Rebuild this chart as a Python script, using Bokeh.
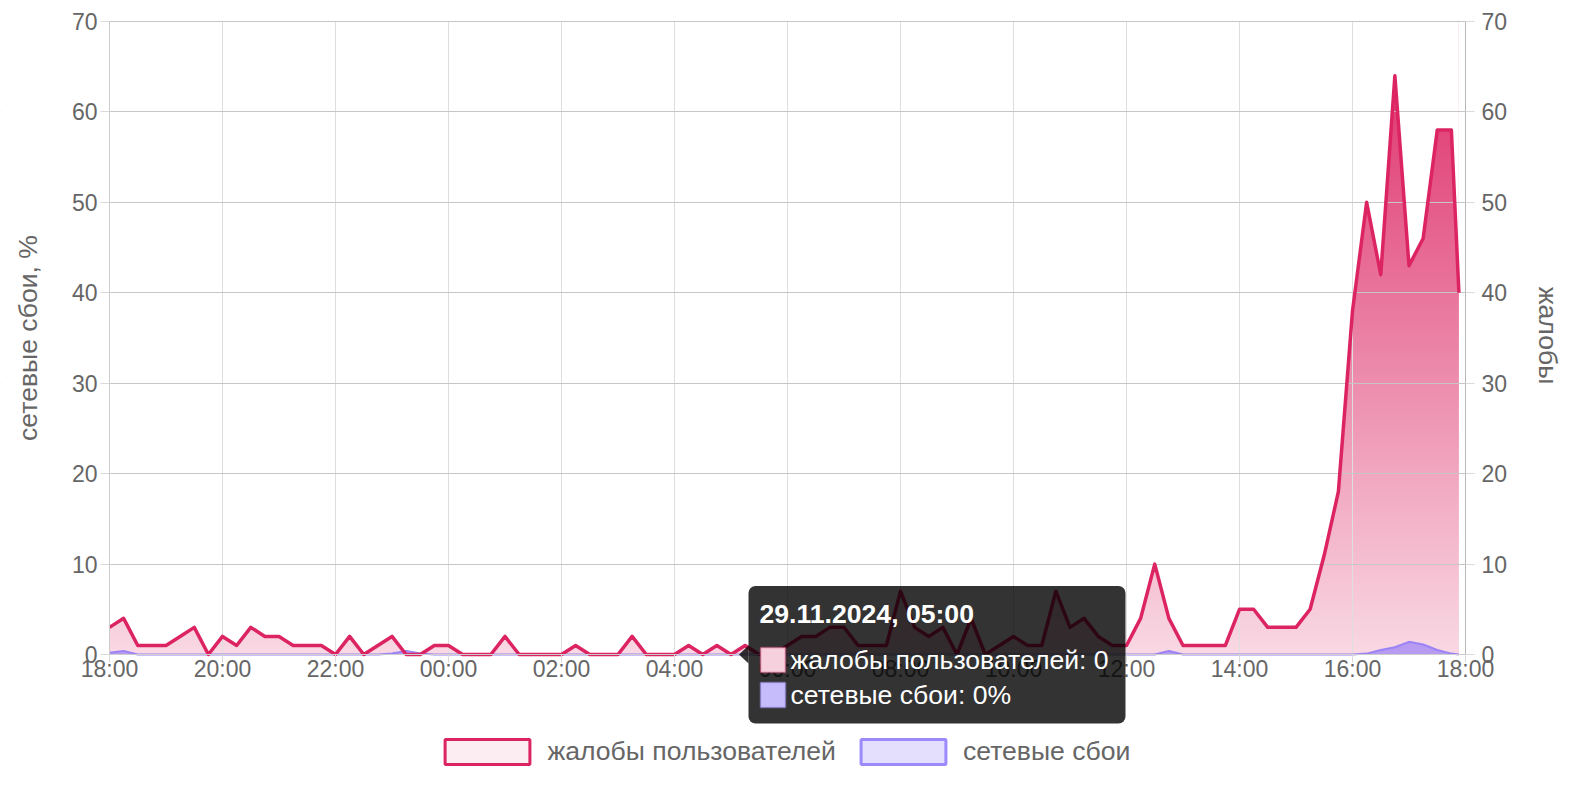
import math
import numpy as np
import pandas as pd
from bokeh.plotting import figure
from bokeh.models import (Range1d, LinearAxis, FixedTicker, DatetimeTickFormatter, Legend,
                          LegendItem, BoxAnnotation, Label, PolyAnnotation)
from bokeh.embed import file_html
from bokeh.resources import INLINE

# ---------------- data ----------------
start = pd.Timestamp("2024-11-28 18:00")
end = pd.Timestamp("2024-11-29 18:00")
last_time = pd.Timestamp("2024-11-29 17:53")
times = list(pd.date_range(start, periods=96, freq="15min")) + [last_time]

complaints = [3, 4, 1, 1, 1, 2, 3, 0, 2, 1, 3, 2, 2, 1, 1, 1,
              0, 2, 0, 1, 2, 0, 0, 1, 1, 0, 0, 0, 2, 0, 0, 0,
              0, 1, 0, 0, 0, 2, 0, 0, 0, 1, 0, 1, 0, 1, 0, 0,
              1, 2, 2, 3, 3, 1, 1, 1, 7, 3, 2, 3, 0, 4, 0, 1,
              2, 1, 1, 7, 3, 4, 2, 1, 1, 4, 10, 4, 1, 1, 1, 1,
              5, 5, 3, 3, 3, 5, 11, 18, 38, 50, 42, 64, 43, 46, 58, 58,
              40]

network = [0.2, 0.4, 0, 0, 0, 0, 0, 0, 0, 0, 0, 0, 0, 0, 0, 0,
           0, 0, 0, 0, 0.1, 0.4, 0.1, 0, 0, 0, 0, 0, 0, 0, 0, 0,
           0, 0, 0, 0, 0, 0, 0, 0, 0, 0, 0, 0, 0, 0, 0, 0,
           0, 0, 0, 0, 0, 0, 0, 0, 0, 0, 0, 0, 0, 0, 0, 0,
           0, 0, 0, 0, 0, 0, 0, 0, 0, 0, 0, 0.4, 0, 0, 0, 0,
           0, 0, 0, 0, 0, 0, 0, 0, 0, 0.1, 0.5, 0.8, 1.4, 1.1, 0.5, 0.1,
           0]

y_ticks = [0, 10, 20, 30, 40, 50, 60, 70]
left_title = "сетевые сбои, %"
right_title = "жалобы"
tooltip_title = "29.11.2024, 05:00"
tooltip_lines = ["жалобы пользователей: 0", "сетевые сбои: 0%"]
series_names = ["жалобы пользователей", "сетевые сбои"]

# ---------------- styles ----------------
FONT = "Liberation Sans"
PINK = "#dc2462"
PURPLE = "#9b82f6"
TXT = "#666666"
TICK_FS = "23px"
BIG_FS = "26.6px"

W, H = 1572, 784
FL, FR, FT, FB = 109, 1465, 21, 654          # plot area (pixels)
start_ms = start.value / 1e6
end_ms = end.value / 1e6
MS_PER_PX = (end_ms - start_ms) / (FR - FL)
PX_PER_UNIT = (FB - FT) / 70.0


def X(px):
    return start_ms + (px - FL) * MS_PER_PX


def Y(py):
    return (FB - py) / PX_PER_UNIT


# the frame covers the whole canvas; axes are pinned to the plot-area edges
p = figure(width=W, height=H, x_axis_type="datetime",
           x_range=Range1d(X(0), X(W)), y_range=Range1d(Y(H), Y(0)),
           output_backend="svg", toolbar_location=None,
           min_border_left=0, min_border_right=0, min_border_top=0, min_border_bottom=0)
p.extra_y_ranges = {"cmp": Range1d(Y(H), Y(0))}
p.outline_line_color = None
p.background_fill_color = "white"
p.border_fill_color = "white"

two_h = 2 * 3600 * 1000
x_ticks = [start_ms + k * two_h for k in range(13)]

# gradient fill for complaints (image behind, masked by white above the curve)
rows = 400
lev = np.linspace(0, 70, rows)
alpha = 0.18 + 0.80 * lev / 70.0
img = np.zeros((rows, 1), dtype=np.uint32)
v = img.view(dtype=np.uint8).reshape((rows, 1, 4))
v[:, 0, 0] = 220
v[:, 0, 1] = 36
v[:, 0, 2] = 98
v[:, 0, 3] = (alpha * 255).astype(np.uint8)
dw = (last_time - start).total_seconds() * 1000
p.image_rgba(image=[img], x=start_ms, y=0, dw=dw, dh=70, level="image", y_range_name="cmp")
p.varea(x=times, y1=complaints, y2=70, fill_color="white", level="image", y_range_name="cmp")

# white masks: keep the grid inside the plot area
eps_y = 0.6 / PX_PER_UNIT
eps_x = 0.6 * MS_PER_PX
for kw in [dict(top=-eps_y), dict(bottom=70 + eps_y), dict(right=start_ms - eps_x),
           dict(left=end_ms + eps_x)]:
    p.add_layout(BoxAnnotation(fill_color="white", fill_alpha=1.0, line_color=None,
                               level="underlay", **kw))

# network failures
p.varea(x=times, y1=0, y2=network, fill_color=PURPLE, fill_alpha=0.7)
p.line(times, network, line_color=PURPLE, line_width=2)
# complaints line
p.line(times, complaints, line_color=PINK, line_width=3.5, line_join="round",
       y_range_name="cmp")

# axes
p.xaxis.fixed_location = 0
p.xaxis.bounds = (start_ms, end_ms)
p.xaxis.ticker = FixedTicker(ticks=x_ticks)
p.xaxis.formatter = DatetimeTickFormatter(hours="%H:%M", days="%H:%M", minutes="%H:%M")
p.xgrid.ticker = FixedTicker(ticks=x_ticks)
p.yaxis.ticker = FixedTicker(ticks=y_ticks)
p.ygrid.ticker = FixedTicker(ticks=y_ticks)
p.yaxis.fixed_location = start_ms
p.yaxis.bounds = (0, 70)

raxis = LinearAxis(y_range_name="cmp", ticker=FixedTicker(ticks=y_ticks),
                   bounds=(0, 70), fixed_location=end_ms)
p.add_layout(raxis, "right")

for ax in [p.xaxis[0], p.yaxis[0], raxis]:
    ax.major_label_text_font = FONT
    ax.major_label_text_font_size = TICK_FS
    ax.major_label_text_color = TXT
    ax.axis_line_color = "#cccccc"
    ax.major_tick_line_color = "#d9d9d9"
    ax.major_tick_in = 0
    ax.major_tick_out = 9
    ax.minor_tick_line_color = None
    ax.major_label_standoff = 3
p.xaxis.major_tick_out = 8
p.xaxis.major_label_standoff = -7
raxis.major_label_standoff = 7
raxis.axis_line_color = "#b8b8b8"

p.xgrid.grid_line_color = "#dedede"
p.ygrid.grid_line_color = "#c6c6c6"

# axis titles
p.add_layout(Label(x=X(27.6), y=Y(337.5), text=left_title, angle=math.pi / 2,
                   text_align="center", text_baseline="middle", text_font=FONT,
                   text_font_size=BIG_FS, text_color=TXT))
p.add_layout(Label(x=X(1547), y=Y(335), text=right_title, angle=-math.pi / 2,
                   text_align="center", text_baseline="middle", text_font=FONT,
                   text_font_size=BIG_FS, text_color=TXT))

# legend with box glyphs (dummy renderers, nothing drawn in the frame)
nan = [float("nan")]
r1 = p.quad(left=nan, right=nan, top=nan, bottom=nan, fill_color="#fcedf2",
            line_color=PINK, line_width=3)
r2 = p.quad(left=nan, right=nan, top=nan, bottom=nan, fill_color="#e4dffd",
            line_color="#9b8afc", line_width=3)
legend = Legend(items=[LegendItem(label=series_names[0], renderers=[r1]),
                       LegendItem(label=series_names[1], renderers=[r2])],
                orientation="horizontal", location=(434.4, H - 767),
                glyph_width=106, glyph_height=31, label_standoff=7, spacing=14,
                label_text_font=FONT, label_text_font_size=BIG_FS, label_text_color=TXT,
                label_height=31,
                border_line_color=None, background_fill_alpha=0, padding=0, margin=0)
p.add_layout(legend, "center")

# tooltip (hover state shown in the reference)
p.add_layout(BoxAnnotation(left=X(748), right=X(1125), top=Y(585.5), bottom=Y(723),
                           fill_color="black", fill_alpha=0.8, line_color=None,
                           border_radius=7, level="overlay"))
p.add_layout(PolyAnnotation(xs=[X(738.5), X(748), X(748)], ys=[Y(654), Y(645), Y(663)],
                            fill_color="black", fill_alpha=0.8, line_color=None, level="overlay"))
p.add_layout(Label(x=X(759), y=Y(613), text=tooltip_title, text_font=FONT,
                   text_font_size=BIG_FS, text_font_style="bold", text_color="white",
                   text_baseline="middle", level="overlay"))
p.add_layout(BoxAnnotation(left=X(760), right=X(785), top=Y(647), bottom=Y(672),
                           fill_color="#f7d0dd", fill_alpha=1.0, line_color=PINK, line_width=2,
                           level="overlay"))
p.add_layout(BoxAnnotation(left=X(760), right=X(785), top=Y(682), bottom=Y(707),
                           fill_color="#c6bbfb", fill_alpha=1.0, line_color="#9b8afc", line_width=2,
                           level="overlay"))
p.add_layout(Label(x=X(790), y=Y(659), text=tooltip_lines[0], text_font=FONT,
                   text_font_size=BIG_FS, text_color="white", text_baseline="middle", level="overlay"))
p.add_layout(Label(x=X(790), y=Y(694), text=tooltip_lines[1], text_font=FONT,
                   text_font_size=BIG_FS, text_color="white", text_baseline="middle", level="overlay"))

open("out.html", "w").write(file_html(p, INLINE))
